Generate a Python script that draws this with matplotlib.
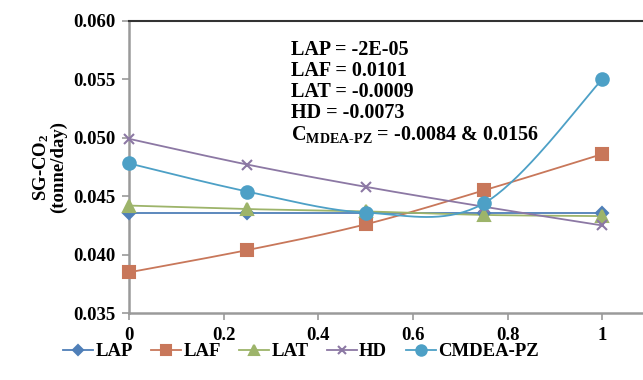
import numpy as np
import matplotlib.pyplot as plt
from matplotlib.lines import Line2D

plt.rcParams['font.family'] = ['Liberation Serif', 'DejaVu Serif']
plt.rcParams['font.weight'] = 'bold'
plt.rcParams['mathtext.fontset'] = 'custom'
plt.rcParams['mathtext.rm'] = 'Liberation Serif:bold'
plt.rcParams['mathtext.bf'] = 'Liberation Serif:bold'
plt.rcParams['mathtext.it'] = 'Liberation Serif:bold'

x = [0, 0.25, 0.5, 0.75, 1]
lap = [0.0436, 0.0436, 0.0436, 0.0436, 0.0436]
laf = [0.0385, 0.0404, 0.0426, 0.0455, 0.0486]
lat = [0.0442, 0.0439, 0.0437, 0.0434, 0.0433]
hd = [0.0499, 0.0477, 0.0458, 0.0441, 0.0425]
cmdea = [0.0478, 0.0454, 0.0436, 0.0444, 0.0550]

names = ['LAP', 'LAF', 'LAT', 'HD', 'CMDEA-PZ']
series = [lap, laf, lat, hd, cmdea]
colors = ['#4F7FB8', '#C8775A', '#9DB46A', '#8C78A4', '#4DA0C6']
markers = ['D', 's', '^', 'x', 'o']
sizes = [6.5, 8, 8, 7.5, 9]


def smooth(xs, ys, n=40):
    # bezier through the points, control points from neighbours (like Excel)
    xs = np.asarray(xs, float)
    ys = np.asarray(ys, float)
    px, py = [], []
    for i in range(len(xs) - 1):
        i0 = max(i - 1, 0)
        i3 = min(i + 2, len(xs) - 1)
        p0 = np.array([xs[i], ys[i]])
        p1 = np.array([xs[i + 1], ys[i + 1]])
        c1 = p0 + (p1 - np.array([xs[i0], ys[i0]])) / 6
        c2 = p1 - (np.array([xs[i3], ys[i3]]) - p0) / 6
        t = np.linspace(0, 1, n)[:, None]
        b = (1 - t) ** 3 * p0 + 3 * (1 - t) ** 2 * t * c1 + 3 * (1 - t) * t ** 2 * c2 + t ** 3 * p1
        px.extend(b[:, 0])
        py.extend(b[:, 1])
    return px, py


fig = plt.figure(figsize=(6.43, 3.8), dpi=100)
ax = fig.add_axes([0.2006, 0.1755, 0.7994, 0.7705])

handles = []
for ys, name, c, m, s in zip(series, names, colors, markers, sizes):
    sx, sy = smooth(x, ys)
    ax.plot(sx, sy, color=c, lw=1.3, zorder=2)
    ax.plot(x, ys, ls='none', marker=m, ms=s, color=c, mew=1.5, zorder=3, clip_on=False)
    handles.append(Line2D([], [], color=c, lw=1.3, marker=m, ms=s - 1.5, mew=1.5, label=name))

ax.set_xlim(0, 1.0856)
ax.set_ylim(0.035, 0.060)
ax.set_xticks([0, 0.2, 0.4, 0.6, 0.8, 1])
ax.set_xticklabels(['0', '0.2', '0.4', '0.6', '0.8', '1'])
ax.set_yticks([0.035, 0.040, 0.045, 0.050, 0.055, 0.060])
ax.set_yticklabels(['0.035', '0.040', '0.045', '0.050', '0.055', '0.060'])

for side in ['left', 'bottom']:
    ax.spines[side].set_color('#9a9a9a')
    ax.spines[side].set_linewidth(1.8)
ax.spines['right'].set_visible(False)
ax.spines['top'].set_color('#333333')
ax.spines['top'].set_linewidth(1.5)
ax.tick_params(axis='both', color='#9a9a9a', width=1.2, length=5, labelsize=13.5, pad=5)

ax.set_ylabel('SG-CO$_{2}$\n(tonne/day)', fontsize=13.5, fontweight='bold', labelpad=4,
              linespacing=0.95)

note = ('LAP = -2E-05\nLAF = 0.0101\nLAT = -0.0009\nHD = -0.0073\n'
        'C$_{\\mathrm{MDEA\\text{-}PZ}}$ = -0.0084 & 0.0156')
ax.text(0.342, 0.0583, note, fontsize=14.5, fontweight='bold', va='top', ha='left',
        linespacing=1.06)

fig.legend(handles=handles, loc='center', bbox_to_anchor=(0.468, 0.074), ncol=5,
           frameon=False, fontsize=13.5, handlelength=1.6, columnspacing=1.0,
           handletextpad=0.1)

fig.savefig('out.png', dpi=100)
